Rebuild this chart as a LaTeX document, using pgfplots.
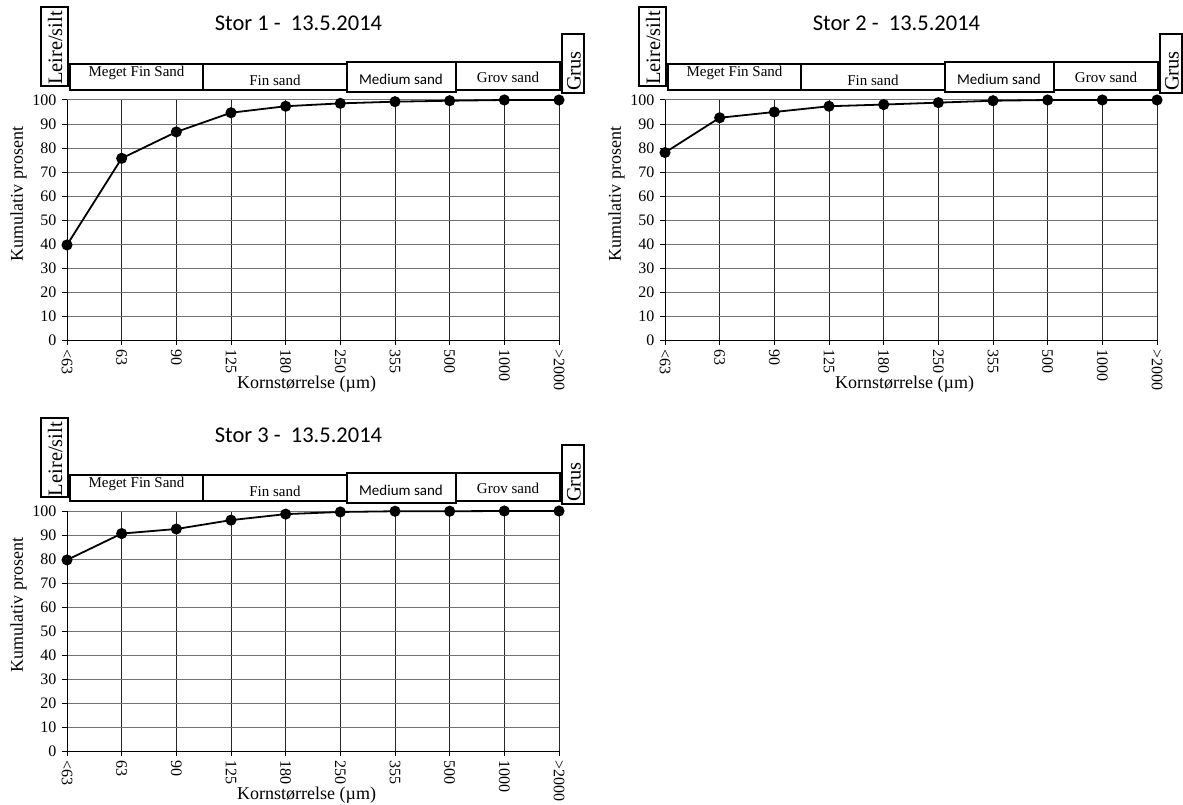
\documentclass[border=0pt]{standalone}
\usepackage{fontspec}
\setmainfont{Liberation Serif}
\newfontfamily\calibri{Carlito}
\usepackage{pgfplots}
\pgfplotsset{compat=1.18}
\usepackage{pgfplotstable}

\pgfplotstableread{
x y
0 39.6
1 75.7
2 86.7
3 94.7
4 97.4
5 98.6
6 99.3
7 99.7
8 100
9 100
}\storA
\pgfplotstableread{
x y
0 78.1
1 92.6
2 95.0
3 97.4
4 98.1
5 98.9
6 99.7
7 100
8 100
9 100
}\storB
\pgfplotstableread{
x y
0 79.6
1 90.6
2 92.5
3 96.2
4 98.7
5 99.6
6 99.9
7 99.9
8 100
9 100
}\storC

\newcommand{\fs}[1]{\fontsize{#1}{#1}\selectfont}

\newcommand{\panel}[4]{%
\begin{axis}[
  at={(67pt+#1pt,-340pt-#2pt)}, anchor=south west,
  scale only axis, width=492pt, height=240pt,
  xmin=0, xmax=9, ymin=0, ymax=100,
  xtick={0,...,9},
  xticklabels={<63,63,90,125,180,250,355,500,1000,>2000},
  ytick={0,10,...,100},
  axis lines*=left,
  axis line style={black, line width=1pt},
  tick style={black, line width=1pt},
  tick align=outside, major tick length=5pt,
  grid=major,
  x grid style={black!85, line width=0.9pt},
  y grid style={black!55, line width=1pt},
  /pgf/number format/assume math mode=true,
  ticklabel style={font=\fs{16}},
  xticklabel style={rotate=-90, anchor=west, xshift=1pt},
  yticklabel style={xshift=-2pt},
  xlabel={Kornstørrelse (µm)},
  xlabel style={at={(axis description cs:0.487,-0.183)}, anchor=center, font=\fs{18}, inner sep=0pt},
  ylabel={Kumulativ prosent},
  ylabel style={at={(axis description cs:-0.0986,0.608)}, anchor=center, rotate=0, font=\fs{18}, inner sep=0pt},
  clip=false,
]
\addplot[black, line width=1.8pt, mark=*, mark size=4.6pt] table[x=x,y=y]{#4};
\end{axis}
% title
\node[font=\calibri\fs{22.5}, anchor=base, inner sep=0pt] at (298.5pt+#1pt,-31pt-#2pt) {Stor #3 - \ 13.5.2014};
% grain class boxes
\draw[line width=1.6pt, fill=white] (41pt+#1pt,-7pt-#2pt) rectangle (68pt+#1pt,-86pt-#2pt);
\node[rotate=90, font=\fs{20.5}, inner sep=0pt] at (55pt+#1pt,-48pt-#2pt) {Leire/silt};
\draw[line width=1.6pt, fill=white] (70pt+#1pt,-64pt-#2pt) rectangle (203pt+#1pt,-90pt-#2pt);
\node[font=\fs{15}, inner sep=0pt] at (136.5pt+#1pt,-73pt-#2pt) {Meget Fin Sand};
\draw[line width=1.6pt, fill=white] (203pt+#1pt,-64pt-#2pt) rectangle (347pt+#1pt,-90pt-#2pt);
\node[font=\fs{15}, inner sep=0pt] at (275pt+#1pt,-80pt-#2pt) {Fin sand};
\draw[line width=1.6pt, fill=white] (347pt+#1pt,-62pt-#2pt) rectangle (456pt+#1pt,-92pt-#2pt);
\node[font=\calibri\fs{15}, inner sep=0pt] at (401pt+#1pt,-79pt-#2pt) {Medium sand};
\draw[line width=1.6pt, fill=white] (456pt+#1pt,-62pt-#2pt) rectangle (560pt+#1pt,-90pt-#2pt);
\node[font=\fs{15}, inner sep=0pt] at (508pt+#1pt,-77pt-#2pt) {Grov sand};
\draw[line width=1.6pt, fill=white] (562pt+#1pt,-34pt-#2pt) rectangle (584pt+#1pt,-93pt-#2pt);
\node[rotate=90, font=\fs{20.5}, inner sep=0pt] at (574pt+#1pt,-71pt-#2pt) {Grus};
}

\begin{document}
\begin{tikzpicture}
\path[use as bounding box] (0pt,0pt) rectangle (1183pt,-805pt);
\panel{0}{0}{1}{\storA}
\panel{598}{0}{2}{\storB}
\panel{0}{411}{3}{\storC}
\end{tikzpicture}
\end{document}
